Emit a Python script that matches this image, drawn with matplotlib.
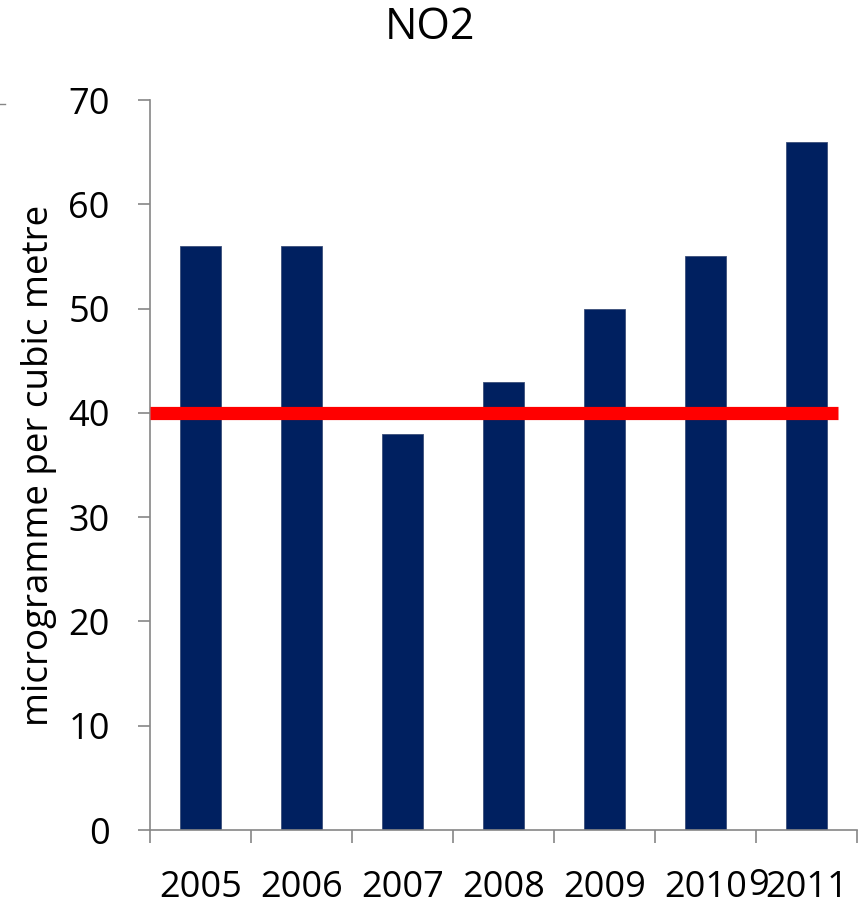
import matplotlib
matplotlib.use("Agg")
import matplotlib.pyplot as plt
from matplotlib.lines import Line2D
import numpy as np

years = ["2005", "2006", "2007", "2008", "2009", "2010", "2011"]
no2 = [56, 56, 38, 43, 50, 55, 66]
limit_value = 40
limit_span = [-0.5, 6.31]
yticks = [0, 10, 20, 30, 40, 50, 60, 70]

plt.rcParams["font.family"] = ["Open Sans", "DejaVu Sans"]

W, H = 862, 901
fig = plt.figure(figsize=(W / 100, H / 100), dpi=100)
ax = fig.add_axes([150 / W, (H - 830) / H, (857 - 150) / W, 730 / H])

x = np.arange(len(years))
ax.bar(x, no2, width=0.4, color="#002060", edgecolor="#3b4f7a", linewidth=0.6, zorder=2)
ax.plot(limit_span, [limit_value, limit_value], color="#ff0000", linewidth=9.5,
        solid_capstyle="butt", zorder=3)

ax.set_xlim(-0.5, len(years) - 0.5)
ax.set_ylim(0, 70)

spine_col = "#868686"
for s in ("top", "right"):
    ax.spines[s].set_visible(False)
for s in ("left", "bottom"):
    ax.spines[s].set_color(spine_col)
    ax.spines[s].set_linewidth(1.2)

ax.set_yticks(yticks)
ax.set_yticklabels([str(v) for v in yticks])
ax.tick_params(axis="y", direction="out", length=9, width=1.2, color=spine_col,
               labelsize=26, pad=20)

ax.set_xticks(x)
ax.set_xticklabels(years)
ax.set_xticks(np.arange(-0.5, len(years)), minor=True)
ax.tick_params(axis="x", which="major", length=0, labelsize=26, pad=29)
ax.tick_params(axis="x", which="minor", direction="out", length=9, width=1.2,
               color=spine_col)

ax.set_ylabel("microgramme per cubic metre", fontsize=26.5, labelpad=8)
fig.text(430 / W, 1 - 28 / H, "NO2", ha="center", va="center", fontsize=31)

# stray overlapping digit next to the 2010 label
fig.text(759 / W, 1 - 886 / H, "9", ha="center", va="center", fontsize=26)

# short rule at the top-left edge
fig.add_artist(Line2D([0, 5 / W], [1 - 104 / H, 1 - 104 / H], color=spine_col,
                      linewidth=1.0, transform=fig.transFigure))

fig.savefig("out.png", dpi=100)
